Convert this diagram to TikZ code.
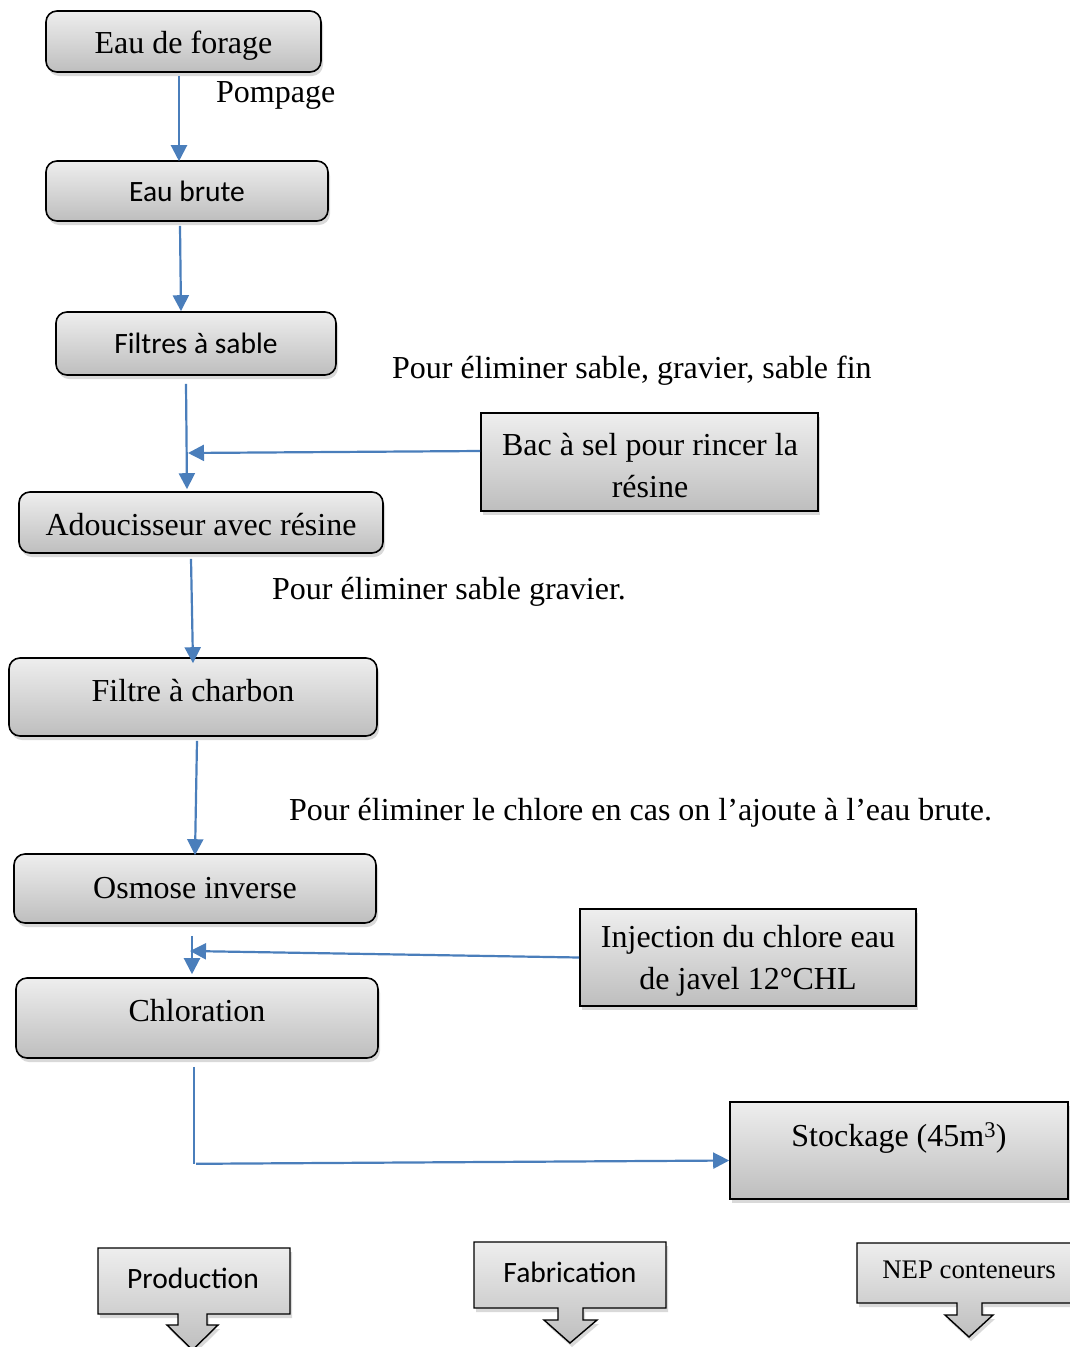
\documentclass[tikz,border=0pt]{standalone}
\usepackage{fontspec}
\setmainfont{Liberation Serif}
\newfontfamily\calib{Carlito}
\usetikzlibrary{arrows.meta,shadows,calc}
\definecolor{flowblue}{RGB}{74,126,187}
\definecolor{gtop}{RGB}{238,238,238}
\definecolor{gbot}{RGB}{190,190,190}
\begin{document}
\begin{tikzpicture}[x=1pt,y=-1pt,
  shad/.style={drop shadow={shadow xshift=2pt,shadow yshift=-4pt,opacity=0.3}},
  box/.style={draw=black,line width=1.6pt,rounded corners=11pt,top color=gtop,bottom color=gbot,shad,inner sep=0pt,align=center,text depth=0pt},
  sqbox/.style={draw=black,line width=1.6pt,top color=gtop,bottom color=gbot,shad,inner sep=0pt,align=center},
  callout/.style={draw=black,line width=1.4pt,top color=gtop,bottom color=gbot,shad},
  serif/.style={font=\fontsize{32}{42}\selectfont},
  sans/.style={font=\calib\fontsize{29.5}{34}\selectfont},
  flow/.style={draw=flowblue,line width=2.2pt,-{Triangle[length=16pt,width=16pt]}},
  note/.style={anchor=base west,inner sep=0pt,font=\fontsize{32}{38}\selectfont}]
\useasboundingbox (0,0) rectangle (1069,1347);

% main column
\node[box,serif,minimum width=275pt,minimum height=61pt,text height=23pt] (forage) at (183.5,41.5) {Eau de forage};
\node[box,sans,minimum width=282pt,minimum height=60pt,text height=21pt] (brute) at (187,191) {Eau brute};
\node[box,sans,minimum width=280pt,minimum height=63pt,text height=19pt] (sable) at (196,343.5) {Filtres à sable};
\node[box,serif,minimum width=364pt,minimum height=61pt,text height=25pt] (adouc) at (201,522.5) {Adoucisseur avec résine};
\node[box,serif,minimum width=368pt,minimum height=78pt,text height=9.5pt] (charbon) at (193,697) {Filtre à charbon};
\node[box,serif,minimum width=362pt,minimum height=69pt,text height=19pt] (osmose) at (195,888.5) {Osmose inverse};
\node[box,serif,minimum width=362pt,minimum height=80pt,text height=7.5pt] (chlor) at (197,1018) {Chloration};

% side boxes
\node[sqbox,minimum width=337pt,minimum height=98pt] (bac) at (649.5,462) {};
\node[serif,align=center,inner sep=0pt] (bactxt) at (650,466) {Bac à sel pour rincer la\\résine};
\node[sqbox,minimum width=336pt,minimum height=97pt] (inj) at (748,957.5) {};
\node[serif,align=center,inner sep=0pt] (injtxt) at (748,961) {Injection du chlore eau\\de javel 12°CHL};
\node[sqbox,serif,minimum width=338pt,minimum height=97pt,text height=0pt,text depth=7.6pt] (stock) at (899,1150.5) {Stockage (45m\textsuperscript{3})};

% notes
\node[note] (pomp) at (216,102) {Pompage};
\node[note] (n1) at (392,378) {Pour éliminer sable, gravier, sable fin};
\node[note] (n2) at (272,599) {Pour éliminer sable gravier.};
\node[note] (n3) at (289,820) {Pour éliminer le chlore en cas on l’ajoute à l’eau brute.};

% junctions
\coordinate (j1) at (188,453);
\coordinate (j2) at (190,951);

% connectors
\draw[flow] ([xshift=-4.5pt,yshift=-3pt]forage.south) -- ([xshift=-8pt,yshift=-1pt]brute.north);
\draw[flow] ([xshift=-7pt,yshift=-4pt]brute.south) -- ([xshift=-15pt]sable.north);
\draw[flow] ([xshift=-10pt,yshift=-8pt]sable.south) -- ([xshift=-14pt,yshift=2pt]adouc.north);
\draw[flow] ([yshift=11pt]bac.west) -- (j1);
\draw[flow] ([xshift=-10pt,yshift=-5pt]adouc.south) -- ([yshift=-6pt]charbon.north);
\draw[flow] ([xshift=4pt,yshift=-4pt]charbon.south) -- ([yshift=-2pt]osmose.north);
\draw[flow] ([xshift=-3pt,yshift=-12pt]osmose.south) -- ([xshift=-5pt,yshift=3pt]chlor.north);
\draw[flow] (inj.west) -- (j2);
\draw[draw=flowblue,line width=1.6pt] ([xshift=-3pt,yshift=-8pt]chlor.south) -- ([xshift=-3pt,yshift=-105pt]chlor.south) coordinate (c1);
\draw[flow] ([xshift=2pt]c1) -- ([yshift=-10pt]stock.west);

% bottom callouts
\path[callout] (98,1248) -- (290,1248) -- (290,1314) -- (207,1314) -- (207,1325) -- (218,1325) -- (192.5,1350) -- (167,1325) -- (178,1325) -- (178,1314) -- (98,1314) -- cycle;
\node[sans,inner sep=0pt] (prod) at (193,1278) {Production};
\path[callout] (474,1242) -- (666,1242) -- (666,1308) -- (583,1308) -- (583,1320) -- (597,1320) -- (570,1343) -- (544,1320) -- (558,1320) -- (558,1308) -- (474,1308) -- cycle;
\node[sans,inner sep=0pt] (fab) at (570,1272) {Fabrication};
\path[callout] (857,1243) -- (1078,1243) -- (1078,1303) -- (982,1303) -- (982,1315) -- (993,1315) -- (969,1337) -- (945,1315) -- (957,1315) -- (957,1303) -- (857,1303) -- cycle;
\node[inner sep=0pt,font=\fontsize{26.8}{30}\selectfont] (nep) at (969,1270) {NEP conteneurs};
\end{tikzpicture}
\end{document}
